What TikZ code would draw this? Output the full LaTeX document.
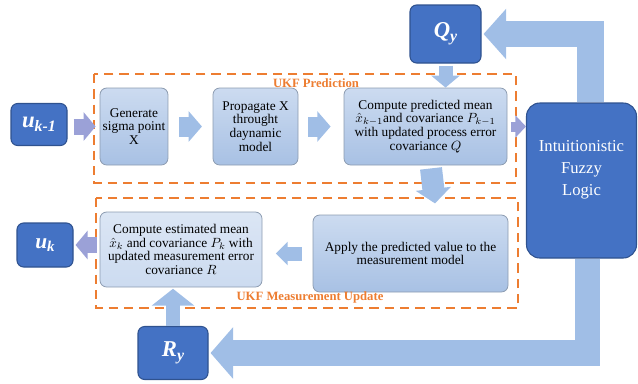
\documentclass[tikz,border=0pt]{standalone}
\usepackage{amsmath}
\usepackage{fontspec}
\setmainfont{Liberation Serif}
\usetikzlibrary{arrows.meta}

\definecolor{darkfill}{RGB}{68,114,196}
\definecolor{darkedge}{RGB}{47,82,143}
\definecolor{lighttop}{RGB}{204,219,240}
\definecolor{lightbot}{RGB}{168,193,228}
\definecolor{lightedge}{RGB}{140,155,176}
\definecolor{arrowblue}{RGB}{160,190,230}
\definecolor{ukforange}{RGB}{237,125,49}

\tikzset{
  darkbox/.style={draw=darkedge, line width=0.8pt, fill=darkfill, rounded corners=5pt, text=white, align=center, inner sep=2pt},
  lightbox/.style={draw=lightedge, line width=0.6pt, top color=lighttop, bottom color=lightbot, rounded corners=5pt, align=center, inner sep=2pt, font=\fontsize{10}{10.3}\selectfont},
  ukfframe/.style={draw=ukforange, line width=1.3pt, dash pattern=on 7pt off 4.5pt},
  ukflabel/.style={text=ukforange, font=\bfseries\fontsize{9.5}{11}\selectfont, inner sep=0.75pt},
  fatarrow/.style n args={3}{draw=arrowblue, line width=#1, -{Triangle[length=#2,width=#3]}}
}
\newcommand{\varsub}[3]{{\bfseries\itshape\fontsize{#3}{#3}\selectfont #1\raisebox{-0.35ex}{\fontsize{0.7\dimexpr #3pt}{1em}\selectfont #2}}}

\begin{document}
\begin{tikzpicture}[x=0.75pt,y=0.75pt,yscale=-1,xscale=1]
	\path[use as bounding box] (0,0) rectangle (638,383);
	
	%Shape: Dashed Frames
	\draw [ukfframe] (94,74) rectangle (516,183) ;
	\draw [ukfframe] (96,198) rectangle (518,308) ;
	
	%Shape: Rounded Rect (inputs, outputs, tuning)
	\node [darkbox, minimum width=42pt, minimum height=31.5pt] (ukm1) at (39,124.5) {\varsub{u}{k-1}{17}};
	\node [darkbox, minimum width=42pt, minimum height=33pt] (uk) at (45,245) {\varsub{u}{k}{16}};
	\node [darkbox, minimum width=53.25pt, minimum height=43.5pt] (qy) at (445.5,34) {\varsub{Q}{y}{17}};
	\node [darkbox, minimum width=52.5pt, minimum height=39.75pt] (ry) at (173,353) {\varsub{R}{y}{17}};
	\node [darkbox, rounded corners=10pt, minimum width=82.5pt, minimum height=116.25pt, font=\fontsize{12.5}{16.5}\selectfont] (ifl) at (581.5,180.5) {Intuitionistic\\Fuzzy\\Logic\\[2pt]};
	
	%Shape: Rounded Rect (UKF steps)
	\node [lightbox, minimum width=49.5pt, minimum height=57.75pt] (gen) at (134,126.5) {Generate\\sigma point\\X};
	\node [lightbox, minimum width=63.75pt, minimum height=57.75pt] (prop) at (255.5,126.5) {Propagate X\\throught\\daynamic\\model};
	\node [lightbox, minimum width=122.25pt, minimum height=57.75pt] (pred) at (425.5,126.5) {Compute predicted mean\\$\hat{x}_{k-1}$and covariance $P_{k-1}$\\with updated process error\\covariance $Q$};
	\node [lightbox, minimum width=146.25pt, minimum height=57.75pt] (apply) at (410.5,253.5) {Apply the predicted value to the\\measurement model};
	\node [lightbox, top color=lighttop!70!white, bottom color=lighttop, minimum width=121.5pt, minimum height=56.25pt] (est) at (181,249.5) {Compute estimated mean\\$\hat{x}_k$ and covariance $P_k$ with\\updated measurement error\\covariance $R$};
	
	% Text Node
	\node [ukflabel] (predlbl) at (316,83) {UKF Prediction};
	% Text Node
	\node [ukflabel] (measlbl) at (310,297) {UKF Measurement Update};
	
	%Straight Lines
	\draw [fatarrow={12pt}{9pt}{21pt}, draw=arrowblue!85!violet, shorten <=4.5pt, shorten >=3pt] (ukm1.east |- gen.west) -- (gen.west) ;
	\draw [fatarrow={15pt}{10pt}{22.5pt}, shorten <=8pt, shorten >=8pt] (gen.east) -- (prop.west) ;
	\draw [fatarrow={15pt}{10pt}{22.5pt}, shorten <=7.5pt, shorten >=9.75pt] (prop.east) -- (pred.west) ;
	\draw [fatarrow={7.5pt}{8pt}{16.5pt}, draw=arrowblue!85!violet, shorten <=3pt] (pred.east) -- (ifl.west |- pred.east) ;
	\draw [fatarrow={10.5pt}{9pt}{21pt}, shorten <=1.5pt] (qy.south) -- (qy.south |- pred.north) ;
	\draw [fatarrow={16.5pt}{11pt}{26pt}] ([shift={(5.5,3)}]pred.south) -- ([shift={(9.5,38)}]pred.south) ;
	\draw [fatarrow={10.5pt}{9pt}{17.25pt}, shorten <=8pt, shorten >=10pt] (apply.west) -- (est.east |- apply.west) ;
	\draw [fatarrow={12pt}{9pt}{21pt}, draw=arrowblue!85!violet, shorten <=2pt, shorten >=1.5pt] (est.west |- uk.east) -- (uk.east) ;
	\draw [fatarrow={10.5pt}{12.75pt}{31.5pt}, shorten >=1pt] (ry.north) -- (ry.north |- est.south) ;
	
	%Bent Lines
	\draw [fatarrow={20pt}{17pt}{37pt}, shorten >=1.5pt] ([xshift=6.75pt]ifl.north) |- (qy.east) ;
	\draw [fatarrow={19pt}{17pt}{38pt}, shorten >=1.5pt] ([xshift=4.5pt]ifl.south) |- (ry.east) ;
	
\end{tikzpicture}
\end{document}
